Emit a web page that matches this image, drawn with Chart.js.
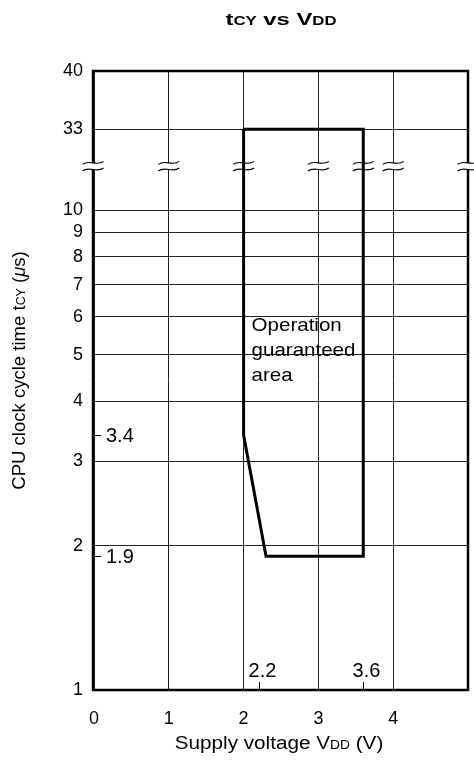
<!DOCTYPE html>
<html>
<head>
<meta charset="utf-8">
<script src="https://cdn.jsdelivr.net/npm/chart.js@4.4.1/dist/chart.umd.min.js"></script>
<style>
    html, body { margin: 0; padding: 0; background: #fff; }
</style>
</head>
<body>
<canvas id="tcyCanvas" width="474" height="765"></canvas>
<script>
// tCY vs VDD - operation guaranteed area
var FONT = '"Liberation Sans", Arial, Helvetica, sans-serif';

var yTickValues = [1, 2, 3, 4, 5, 6, 7, 8, 9, 10, 33, 40];
var xTickValues = [0, 1, 2, 3, 4];
var areaVdd = [2, 3.6, 3.6, 2.3, 2, 2];
var areaTcy = [33, 33, 1.9, 1.9, 3.4, 33];
var markTcy = [3.4, 1.9];
var markVdd = [2.2, 3.6];
var breakVdd = [0, 1, 2, 3, 3.6, 4, 5];
var areaText = ['Operation', 'guaranteed', 'area'];

// log scale below the break, squeezed part above it
function tcyToAxis(v) {
    if (v <= 10) return Math.log10(v);
    return 1.169 + (v - 33) * 0.01735;
}
var BREAK_AT = 1.092;

// text runs with sub-sized parts, sx = horizontal stretch
function drawRich(ctx, segs, cx, base, sx) {
    sx = sx || 1;
    var total = 0;
    segs.forEach(function (s) {
        ctx.font = s[1];
        total += ctx.measureText(s[0]).width;
    });
    ctx.save();
    ctx.translate(cx, base);
    ctx.scale(sx, 1);
    var x = -total / 2;
    segs.forEach(function (s) {
        ctx.font = s[1];
        ctx.fillText(s[0], x, 0);
        x += ctx.measureText(s[0]).width;
    });
    ctx.restore();
}

function wavePath(ctx, x, y, w, back) {
    if (!back) {
        ctx.moveTo(x - w, y + 1.5);
        ctx.bezierCurveTo(x - w / 3, y - 4, x + w / 3, y + 4, x + w, y - 1.5);
    } else {
        ctx.lineTo(x + w, y - 1.5);
        ctx.bezierCurveTo(x + w / 3, y + 4, x - w / 3, y - 4, x - w, y + 1.5);
    }
}

var decorPlugin = {
    id: 'decor',
    beforeDatasetsDraw: function (chart) {
        var ctx = chart.ctx, a = chart.chartArea;
        var xs = chart.scales.x, ys = chart.scales.y;
        ctx.save();
        ctx.strokeStyle = '#000';
        ctx.lineWidth = 2.5;
        ctx.strokeRect(a.left - 1, a.top, a.right - a.left + 1, a.bottom - a.top);

        var by = ys.getPixelForValue(BREAK_AT);
        breakVdd.forEach(function (v) {
            var bx = xs.getPixelForValue(v);
            if (v === 0) bx -= 1;
            ctx.beginPath();
            wavePath(ctx, bx, by - 3.3, 10.5, false);
            wavePath(ctx, bx, by + 3.3, 10.5, true);
            ctx.closePath();
            ctx.fillStyle = '#fff';
            ctx.fill();
            ctx.beginPath();
            wavePath(ctx, bx, by - 3.3, 10.5, false);
            ctx.moveTo(bx - 10.5, by + 3.3 + 1.5);
            ctx.bezierCurveTo(bx - 3.5, by + 3.3 - 4, bx + 3.5, by + 3.3 + 4, bx + 10.5, by + 3.3 - 1.5);
            ctx.lineWidth = 1.1;
            ctx.strokeStyle = '#000';
            ctx.stroke();
        });
        ctx.restore();
    },
    afterDatasetsDraw: function (chart) {
        var ctx = chart.ctx, a = chart.chartArea;
        var xs = chart.scales.x, ys = chart.scales.y;
        ctx.save();
        ctx.strokeStyle = '#000';
        ctx.fillStyle = '#000';
        ctx.lineWidth = 1;
        ctx.font = '20px ' + FONT;

        ctx.textAlign = 'left';
        ctx.textBaseline = 'middle';
        markTcy.forEach(function (v) {
            var py = Math.round(ys.getPixelForValue(tcyToAxis(v))) + 0.5;
            ctx.beginPath();
            ctx.moveTo(a.left, py);
            ctx.lineTo(a.left + 7, py);
            ctx.stroke();
            ctx.fillText(String(v), a.left + 12, py + 1);
        });

        ctx.textAlign = 'center';
        ctx.textBaseline = 'alphabetic';
        markVdd.forEach(function (v) {
            var px = Math.round(xs.getPixelForValue(v)) + 0.5;
            ctx.beginPath();
            ctx.moveTo(px, a.bottom);
            ctx.lineTo(px, a.bottom - 8);
            ctx.stroke();
            ctx.fillText(String(v), px + 3, a.bottom - 13);
        });

        ctx.textBaseline = 'middle';
        var tx = xs.getPixelForValue(2) + 8;
        var ty = ys.getPixelForValue(tcyToAxis(6)) + 9;
        areaText.forEach(function (t, i) {
            ctx.save();
            ctx.translate(tx, ty + i * 25);
            ctx.scale(1.08, 1);
            ctx.font = '19px ' + FONT;
            ctx.textAlign = 'left';
            ctx.fillText(t, 0, 0);
            ctx.restore();
        });
        ctx.restore();
    },
    afterDraw: function (chart) {
        var ctx = chart.ctx, a = chart.chartArea;
        var cx = (a.left + a.right) / 2;
        ctx.save();
        ctx.fillStyle = '#000';
        ctx.textAlign = 'left';
        ctx.textBaseline = 'alphabetic';

        drawRich(ctx, [
            ['t', 'bold 17px ' + FONT],
            ['CY', 'bold 12px ' + FONT],
            [' vs V', 'bold 17px ' + FONT],
            ['DD', 'bold 12px ' + FONT]
        ], cx, 25, 1.4);

        drawRich(ctx, [
            ['Supply voltage V', '18px ' + FONT],
            ['DD', '12px ' + FONT],
            [' (V)', '18px ' + FONT]
        ], cx - 2, 749, 1.15);

        ctx.translate(25, (a.top + a.bottom) / 2 - 10);
        ctx.rotate(-Math.PI / 2);
        drawRich(ctx, [
            ['CPU clock cycle time t', '18px ' + FONT],
            ['CY', '12px ' + FONT],
            [' (', '18px ' + FONT],
            ['\u03bc', 'italic 18px ' + FONT],
            ['s)', '18px ' + FONT]
        ], 0, 0, 1.03);
        ctx.restore();
    }
};

function tcyChart() {
    var points = areaVdd.map(function (v, i) {
        return { x: v, y: tcyToAxis(areaTcy[i]) };
    });
    var ctx = document.getElementById('tcyCanvas').getContext('2d');
    var chart = new Chart(ctx, {
        type: 'scatter',
        data: {
            datasets: [{
                data: points,
                showLine: true,
                borderColor: '#000',
                borderWidth: 3,
                borderJoinStyle: 'miter',
                pointRadius: 0,
                fill: false,
                tension: 0
            }]
        },
        options: {
            responsive: false,
            animation: false,
            devicePixelRatio: 1,
            layout: { padding: { top: 71, right: 6, bottom: 0, left: 0 } },
            plugins: {
                legend: { display: false },
                tooltip: { enabled: false },
                title: { display: false }
            },
            scales: {
                x: {
                    type: 'linear',
                    min: 0,
                    max: 5,
                    afterFit: function (s) { s.height = 75; },
                    afterBuildTicks: function (s) {
                        s.ticks = xTickValues.map(function (v) { return { value: v }; });
                    },
                    grid: { color: '#222', lineWidth: 1, drawTicks: false },
                    border: { display: false },
                    ticks: {
                        padding: 18,
                        color: '#000',
                        font: { family: FONT, size: 18 },
                        callback: function (v) { return String(v); }
                    }
                },
                y: {
                    type: 'linear',
                    min: 0,
                    max: tcyToAxis(40),
                    afterFit: function (s) { s.width = 94; },
                    afterBuildTicks: function (s) {
                        s.ticks = yTickValues.map(function (v) { return { value: tcyToAxis(v) }; });
                    },
                    grid: { color: '#222', lineWidth: 1, drawTicks: false },
                    border: { display: false },
                    ticks: {
                        padding: 11,
                        autoSkip: false,
                        color: '#000',
                        font: { family: FONT, size: 18 },
                        callback: function (val, i) { return String(yTickValues[i]); }
                    }
                }
            }
        },
        plugins: [decorPlugin]
    });
}

tcyChart();
</script>
</body>
</html>
